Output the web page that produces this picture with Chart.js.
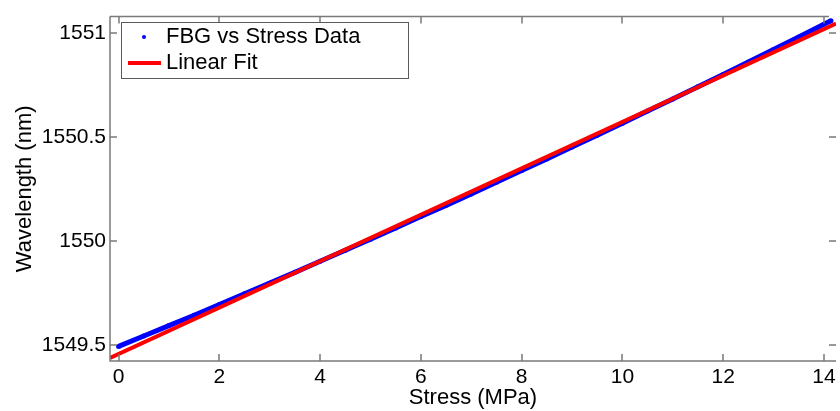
<!DOCTYPE html>
<html><head><meta charset="utf-8">
<script src="https://cdn.jsdelivr.net/npm/chart.js@4/dist/chart.umd.min.js"></script>
<style>html,body{margin:0;padding:0;background:#fff;overflow:hidden;}</style>
</head><body>
<canvas id="c" width="840" height="411" style="display:block;width:840px;height:411px"></canvas>
<script>
const stressMPa = [0,0.5,1,1.5,2,2.5,3,3.5,4,4.5,5,5.5,6,6.5,7,7.5,8,8.5,9,9.5,10,10.5,11,11.5,12,12.5,13,13.5,14,14.14];
const wavelengthNm = [1549.495,1549.545,1549.595,1549.645,1549.696,1549.748,1549.799,1549.851,1549.904,1549.957,1550.010,1550.064,1550.119,1550.173,1550.228,1550.284,1550.340,1550.396,1550.453,1550.510,1550.568,1550.626,1550.684,1550.743,1550.802,1550.862,1550.922,1550.982,1551.043,1551.060];
const fitStress = [-0.17, 14.24];
const fitWavelength = [1549.440, 1551.047];
const xTickValues = [0,2,4,6,8,10,12,14];
const yTickValues = [1549.5,1550,1550.5,1551];
const seriesLabels = ['FBG vs Stress Data','Linear Fit'];
const xTitle = 'Stress (MPa)';
const yTitle = 'Wavelength (nm)';

const FONT = '"Liberation Sans", Arial, sans-serif';
const FS = 21;
const FT = 22;
const AXIS = '#7a7a7a';

const framePlugin = {
  id: 'frame',
  afterDatasetsDraw(chart) {
    const {ctx, chartArea: a, scales: {x, y}} = chart;
    ctx.save();
    ctx.strokeStyle = AXIS;
    ctx.lineWidth = 1.5;
    ctx.beginPath();
    ctx.moveTo(a.left, a.top); ctx.lineTo(829, a.top);
    ctx.moveTo(a.left, a.top); ctx.lineTo(a.left, a.bottom);
    ctx.lineTo(a.right, a.bottom);
    xTickValues.forEach(v => {
      const px = Math.round(x.getPixelForValue(v));
      ctx.moveTo(px, a.bottom); ctx.lineTo(px, a.bottom - 7);
      ctx.moveTo(px, a.top); ctx.lineTo(px, a.top + 7);
    });
    yTickValues.forEach(v => {
      const py = Math.round(y.getPixelForValue(v));
      ctx.moveTo(a.left, py); ctx.lineTo(a.left + 7, py);
      ctx.moveTo(a.right, py); ctx.lineTo(a.right - 7, py);
    });
    ctx.stroke();
    ctx.restore();
  },
  afterDraw(chart) {
    const ctx = chart.ctx;
    ctx.save();
    ctx.fillStyle = '#fff';
    ctx.fillRect(121, 22, 287, 56);
    ctx.strokeStyle = '#5a5a5a';
    ctx.lineWidth = 1;
    ctx.strokeRect(121.5, 22.5, 287, 56);
    ctx.fillStyle = '#0000ff';
    ctx.beginPath(); ctx.arc(144, 37, 2, 0, Math.PI * 2); ctx.fill();
    ctx.strokeStyle = '#ff0000';
    ctx.lineWidth = 4;
    ctx.beginPath(); ctx.moveTo(128, 63); ctx.lineTo(161, 63); ctx.stroke();
    ctx.fillStyle = '#000';
    ctx.font = FT + 'px ' + FONT;
    ctx.textBaseline = 'middle';
    ctx.fillText(seriesLabels[0], 166, 37);
    ctx.fillText(seriesLabels[1], 166, 63);
    ctx.restore();
  }
};

new Chart(document.getElementById('c'), {
  type: 'scatter',
  data: {
    datasets: [
      {
        label: seriesLabels[0],
        data: stressMPa.map((s, i) => ({x: s, y: wavelengthNm[i]})),
        showLine: true,
        borderColor: '#0000ff',
        backgroundColor: '#0000ff',
        borderWidth: 5,
        pointRadius: 2.5,
        pointBorderWidth: 0,
        order: 2
      },
      {
        label: seriesLabels[1],
        data: fitStress.map((s, i) => ({x: s, y: fitWavelength[i]})),
        showLine: true,
        borderColor: '#ff0000',
        backgroundColor: '#ff0000',
        borderWidth: 4,
        pointRadius: 0,
        order: 1
      }
    ]
  },
  options: {
    responsive: false,
    animation: false,
    devicePixelRatio: 1,
    layout: {padding: {left: 0, right: 0, top: 10, bottom: 0}},
    plugins: {legend: {display: false}, tooltip: {enabled: false}},
    scales: {
      x: {
        type: 'linear',
        min: -0.17, max: 14.24,
        grid: {display: false, drawTicks: false},
        border: {display: false},
        afterBuildTicks: s => { s.ticks = xTickValues.map(v => ({value: v})); },
        afterFit: s => { s.height = 50; },
        ticks: {color: '#000', font: {family: FONT, size: FS}, padding: 4, maxRotation: 0, autoSkip: false,
          callback: v => String(v)},
        title: {display: true, text: xTitle, color: '#000', font: {family: FONT, size: FT}, padding: {top: 0, bottom: 0}}
      },
      y: {
        type: 'linear',
        min: 1549.425, max: 1551.08,
        grid: {display: false, drawTicks: false},
        border: {display: false},
        afterBuildTicks: s => { s.ticks = yTickValues.map(v => ({value: v})); },
        afterFit: s => { s.width = 110; },
        ticks: {color: '#000', font: {family: FONT, size: FS}, padding: 4, autoSkip: false,
          callback: v => String(v)},
        title: {display: true, text: yTitle, color: '#000', font: {family: FONT, size: FT}, padding: {top: 12, bottom: 0}}
      }
    }
  },
  plugins: [framePlugin]
});
</script>
</body></html>
